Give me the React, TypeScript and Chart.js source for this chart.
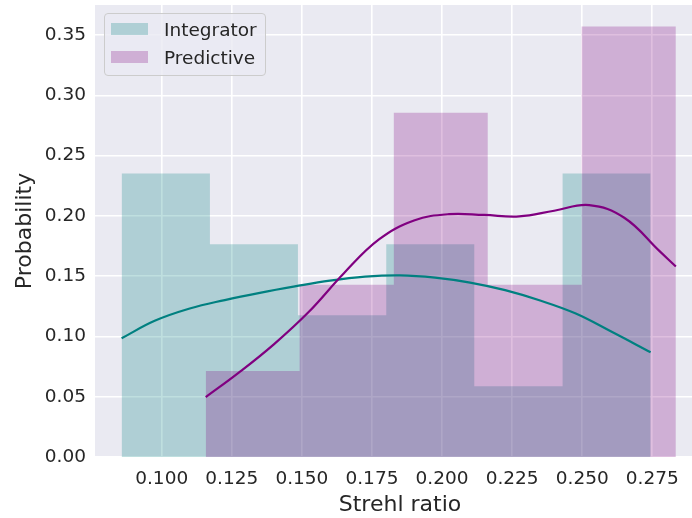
import React, { useEffect, useRef } from "react";
import { Chart, registerables } from "chart.js";

Chart.register(...registerables);

// ---- data ----
const integratorEdges = [0.0857, 0.1172, 0.1486, 0.1801, 0.2115, 0.243, 0.2744];
const integratorProb = [0.2353, 0.1765, 0.1176, 0.1765, 0.0588, 0.2353];

const predictiveEdges = [0.1157, 0.1492, 0.1828, 0.2163, 0.2498, 0.2834];
const predictiveProb = [0.0714, 0.1429, 0.2857, 0.1429, 0.3571];

const integratorKdeX = [0.0857, 0.0975, 0.11, 0.1225, 0.135, 0.1475, 0.16, 0.1725, 0.185, 0.1975, 0.21, 0.2225, 0.235, 0.2475, 0.26, 0.2744];
const integratorKdeY = [0.0985, 0.113, 0.1232, 0.1302, 0.1362, 0.1415, 0.1463, 0.1496, 0.1507, 0.1488, 0.1447, 0.1384, 0.1298, 0.1192, 0.1045, 0.0869];

const predictiveKdeX = [0.1157, 0.1275, 0.14, 0.1525, 0.165, 0.1775, 0.19, 0.2025, 0.215, 0.2275, 0.24, 0.2525, 0.265, 0.2775, 0.2834];
const predictiveKdeY = [0.0497, 0.07, 0.0935, 0.1205, 0.1525, 0.1805, 0.1962, 0.2015, 0.2008, 0.1996, 0.2043, 0.209, 0.1985, 0.171, 0.158];

const xTickValues = [0.1, 0.125, 0.15, 0.175, 0.2, 0.225, 0.25, 0.275];
const yTickValues = [0, 0.05, 0.1, 0.15, 0.2, 0.25, 0.3, 0.35];

const seriesLabels = ["Integrator", "Predictive"];
const fillColors = ["rgba(0,128,128,0.25)", "rgba(128,0,128,0.25)"];
const lineColors = ["#008080", "#800080"];

const xMin = 0.07621;
const xMax = 0.2938;
const yMin = 0;
const yMax = 0.375;

const TEXT = "#262626";
const FONT = "'DejaVu Sans', sans-serif";

function stepPoints(edges: number[], probs: number[]) {
  return edges.map((e, i) => ({ x: e, y: probs[Math.min(i, probs.length - 1)] }));
}
function zipPoints(xs: number[], ys: number[]) {
  return xs.map((x, i) => ({ x, y: ys[i] }));
}

const bgPlugin = {
  id: "plotBg",
  beforeDraw(chart: any) {
    const { ctx, chartArea: a } = chart;
    ctx.save();
    ctx.fillStyle = "#EAEAF2";
    ctx.fillRect(a.left, a.top, a.right - a.left, a.bottom - a.top);
    ctx.restore();
  },
};

export default function App() {
  const canvasRef = useRef<HTMLCanvasElement>(null);

  useEffect(() => {
    if (!canvasRef.current) return;
    Chart.defaults.font.family = FONT;
    Chart.defaults.color = TEXT;
    const chart = new Chart(canvasRef.current, {
      type: "line",
      data: {
        datasets: [
          {
            label: seriesLabels[0],
            data: stepPoints(integratorEdges, integratorProb),
            stepped: "before",
            fill: "origin",
            backgroundColor: fillColors[0],
            borderColor: "rgba(0,0,0,0)",
            borderWidth: 0,
            pointRadius: 0,
            order: 4,
          },
          {
            label: seriesLabels[1],
            data: stepPoints(predictiveEdges, predictiveProb),
            stepped: "before",
            fill: "origin",
            backgroundColor: fillColors[1],
            borderColor: "rgba(0,0,0,0)",
            borderWidth: 0,
            pointRadius: 0,
            order: 3,
          },
          {
            label: seriesLabels[0] + " KDE",
            data: zipPoints(integratorKdeX, integratorKdeY),
            borderColor: lineColors[0],
            borderWidth: 2.2,
            pointRadius: 0,
            fill: false,
            tension: 0.4,
            order: 2,
          },
          {
            label: seriesLabels[1] + " KDE",
            data: zipPoints(predictiveKdeX, predictiveKdeY),
            borderColor: lineColors[1],
            borderWidth: 2.2,
            pointRadius: 0,
            fill: false,
            tension: 0.4,
            order: 1,
          },
        ],
      },
      options: {
        animation: false,
        responsive: true,
        maintainAspectRatio: false,
        layout: { padding: { top: 5, left: 0, right: 0, bottom: 0 } },
        plugins: {
          legend: { display: false },
          tooltip: { enabled: false },
        },
        scales: {
          x: {
            type: "linear",
            min: xMin,
            max: xMax,
            afterBuildTicks: (scale: any) => {
              scale.ticks = xTickValues.map((v) => ({ value: v }));
            },
            afterFit: (scale: any) => {
              scale.height = 61;
              scale.paddingLeft = 0;
              scale.paddingRight = 0;
            },
            grid: { color: "#ffffff", lineWidth: 1.6, drawTicks: false },
            border: { display: false },
            ticks: {
              padding: 11,
              color: TEXT,
              font: { size: 18.5, family: FONT },
              autoSkip: false,
              maxRotation: 0,
              callback: (v: any) => Number(v).toFixed(3),
            },
            title: {
              display: true,
              text: "Strehl ratio",
              color: TEXT,
              font: { size: 22, family: FONT, lineHeight: 1.2 },
              padding: { top: 0, bottom: 0 },
            },
          },
          y: {
            type: "linear",
            min: yMin,
            max: yMax,
            afterBuildTicks: (scale: any) => {
              scale.ticks = yTickValues.map((v) => ({ value: v }));
            },
            afterFit: (scale: any) => {
              scale.width = 95;
              scale.paddingTop = 0;
              scale.paddingBottom = 0;
            },
            grid: { color: "#ffffff", lineWidth: 1.6, drawTicks: false },
            border: { display: false },
            ticks: {
              padding: 9,
              color: TEXT,
              font: { size: 18.5, family: FONT },
              callback: (v: any) => Number(v).toFixed(2),
            },
            title: {
              display: true,
              text: "Probability",
              color: TEXT,
              font: { size: 22, family: FONT, lineHeight: 1.2 },
              padding: { top: 12, bottom: 0 },
            },
          },
        },
      },
      plugins: [bgPlugin],
    } as any);
    return () => chart.destroy();
  }, []);

  return (
    <div
      style={{
        position: "absolute",
        left: 0,
        top: 0,
        width: 692,
        height: 518,
        overflow: "hidden",
        background: "#ffffff",
      }}
    >
      <div style={{ position: "relative", width: 705, height: 518 }}>
        <canvas ref={canvasRef} />
      </div>
      <div
        style={{
          position: "absolute",
          left: 104,
          top: 13,
          width: 162,
          height: 63,
          boxSizing: "border-box",
          border: "1px solid #cccccc",
          borderRadius: 4,
          background: "rgba(234,234,242,0.8)",
          fontFamily: FONT,
          fontSize: 18.5,
          color: TEXT,
        }}
      >
        {seriesLabels.map((lab, i) => (
          <div
            key={lab}
            style={{
              position: "absolute",
              left: 0,
              top: 1 + i * 28,
              height: 28,
              display: "flex",
              alignItems: "center",
              whiteSpace: "nowrap",
            }}
          >
            <span
              style={{
                display: "inline-block",
                width: 37,
                height: 12.5,
                marginLeft: 6,
                marginRight: 16,
                background: fillColors[i],
              }}
            />
            <span>{lab}</span>
          </div>
        ))}
      </div>
    </div>
  );
}
